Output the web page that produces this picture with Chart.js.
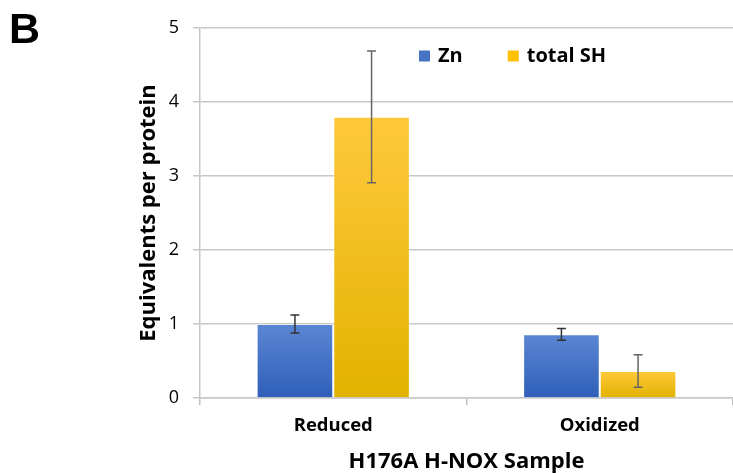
<!DOCTYPE html>
<html>
<head>
<meta charset="utf-8">
<script src="https://cdn.jsdelivr.net/npm/chart.js@4/dist/chart.umd.min.js"></script>
<style>
  html, body { margin: 0; padding: 0; background: #fff; }
  #wrap { position: relative; width: 733px; height: 473px; }
</style>
</head>
<body>
<div id="wrap"><canvas id="c" width="733" height="473"></canvas></div>
<script>
const categories = ["Reduced", "Oxidized"];
const seriesNames = ["Zn", "total SH"];
const znValues = [1.0, 0.86];
const znErrors = [0.12, 0.08];
const shValues = [3.80, 0.365];
const shErrors = [0.89, 0.22];
const yTicks = [0, 1, 2, 3, 4, 5];

const FONT = "'Open Sans', 'Liberation Sans', sans-serif";

function barGradient(top, bottom) {
  return function(ctx) {
    const chart = ctx.chart;
    const y = chart.scales && chart.scales.y;
    if (!chart.chartArea || !y || ctx.raw == null) return bottom;
    const yTop = y.getPixelForValue(ctx.raw);
    const yBot = y.getPixelForValue(0);
    if (!isFinite(yTop) || !isFinite(yBot) || yTop === yBot) return bottom;
    const g = chart.ctx.createLinearGradient(0, yTop, 0, yBot);
    g.addColorStop(0, top);
    g.addColorStop(1, bottom);
    return g;
  };
}

const errorBarPlugin = {
  id: 'errorBars',
  afterDatasetsDraw(chart) {
    const ctx = chart.ctx;
    const yScale = chart.scales.y;
    ctx.save();
    chart.data.datasets.forEach((ds, di) => {
      const meta = chart.getDatasetMeta(di);
      meta.data.forEach((bar, i) => {
        const v = ds.data[i], e = ds.errors[i];
        const x = bar.x;
        const yHi = yScale.getPixelForValue(v + e);
        const yLo = yScale.getPixelForValue(v - e);
        ctx.strokeStyle = ds.errorColor;
        ctx.lineWidth = 1.5;
        ctx.beginPath();
        ctx.moveTo(x, yHi); ctx.lineTo(x, yLo);
        ctx.moveTo(x - 4.5, yHi); ctx.lineTo(x + 4.5, yHi);
        ctx.moveTo(x - 4.5, yLo); ctx.lineTo(x + 4.5, yLo);
        ctx.stroke();
      });
    });
    ctx.restore();
  }
};

const extrasPlugin = {
  id: 'extras',
  afterDraw(chart) {
    const ctx = chart.ctx;
    ctx.save();
    // Panel letter
    ctx.fillStyle = '#000';
    ctx.font = "bold 43px 'Liberation Sans', Arial, sans-serif";
    ctx.textBaseline = 'alphabetic';
    ctx.textAlign = 'left';
    ctx.fillText('B', 9, 43);
    // Legend
    ctx.font = "bold 20px " + FONT;
    ctx.textBaseline = 'middle';
    const legendY = 56;
    const items = chart.data.datasets.map(d => ({ label: d.label, color: d.legendColor }));
    const box = 11, gapBoxText = 8, gapItems = 45;
    const widths = items.map(it => ctx.measureText(it.label).width);
    let x = 419;
    items.forEach((it, i) => {
      ctx.fillStyle = it.color;
      ctx.fillRect(x, legendY - box / 2, box, box);
      ctx.fillStyle = '#000';
      ctx.fillText(it.label, x + box + gapBoxText, legendY);
      x += box + gapBoxText + widths[i] + gapItems;
    });
    ctx.restore();
  }
};

new Chart(document.getElementById('c'), {
  type: 'bar',
  data: {
    labels: categories,
    datasets: [
      {
        label: seriesNames[0],
        data: znValues,
        errors: znErrors,
        errorColor: '#333',
        legendColor: '#4472c4',
        backgroundColor: barGradient('#5b86d3', '#2f5fb9'),
        borderColor: 'rgba(255,255,255,0.35)',
        borderWidth: 1,
        categoryPercentage: 0.575,
        barPercentage: 1.0
      },
      {
        label: seriesNames[1],
        data: shValues,
        errors: shErrors,
        errorColor: '#666',
        legendColor: '#ffc000',
        backgroundColor: barGradient('#ffc93c', '#e2b200'),
        borderColor: 'rgba(255,255,255,0.35)',
        borderWidth: 1,
        categoryPercentage: 0.575,
        barPercentage: 1.0
      }
    ]
  },
  options: {
    responsive: false,
    animation: false,
    devicePixelRatio: 1,
    layout: { padding: { top: 28, right: 0, bottom: 0, left: 0 } },
    plugins: {
      legend: { display: false },
      tooltip: { enabled: false },
      title: { display: false }
    },
    scales: {
      x: {
        grid: {
          display: true,
          drawOnChartArea: false,
          color: '#bfbfbf',
          lineWidth: 1.5,
          tickLength: 7
        },
        border: { display: true, color: '#c8c8c8', width: 1.5 },
        ticks: {
          color: '#000',
          padding: 10,
          font: { family: FONT, size: 18.5, weight: 'bold' }
        },
        title: {
          display: true,
          text: 'H176A H-NOX Sample',
          color: '#000',
          padding: { top: 0, bottom: 0 },
          font: { family: FONT, size: 22, weight: 'bold', lineHeight: 1 }
        },
        afterFit(scale) { scale.height = 75; }
      },
      y: {
        min: 0,
        max: 5,
        afterBuildTicks(scale) { scale.ticks = yTicks.map(v => ({ value: v })); },
        grid: {
          color: '#c8c8c8',
          lineWidth: 1.5,
          tickLength: 7,
          tickColor: '#c8c8c8'
        },
        border: { display: true, color: '#c8c8c8', width: 1.5 },
        ticks: {
          color: '#000',
          padding: 14,
          font: { family: FONT, size: 18 }
        },
        title: {
          display: true,
          text: 'Equivalents per protein',
          color: '#000',
          padding: { top: 138, bottom: 0 },
          font: { family: FONT, size: 22, weight: 'bold', lineHeight: 1 }
        },
        afterFit(scale) { scale.width = 200; }
      }
    }
  },
  plugins: [errorBarPlugin, extrasPlugin]
});
</script>
</body>
</html>
